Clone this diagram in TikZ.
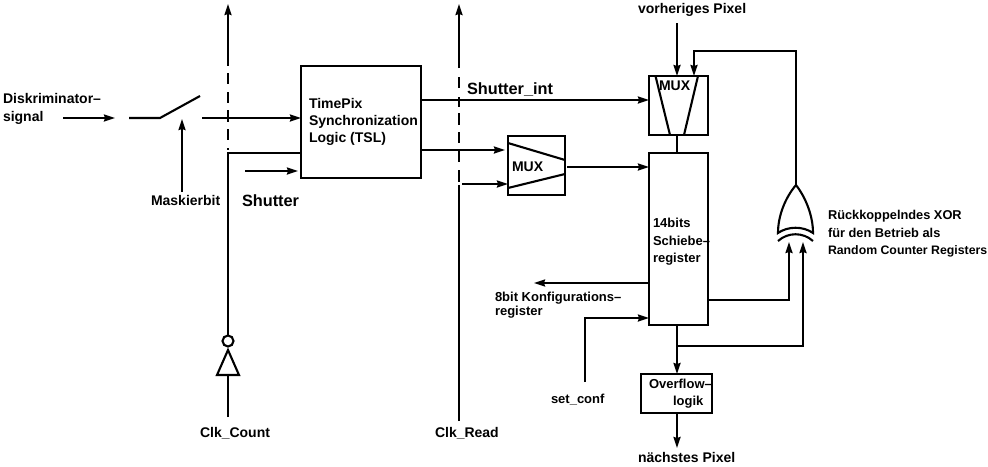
\documentclass[tikz,border=0pt]{standalone}
\usepackage{fontspec}
\setmainfont{Liberation Sans}
\usetikzlibrary{arrows.meta}
\tikzset{
  x=1pt,y=-1pt,
  wire/.style={line width=2.1pt,line cap=butt,line join=miter},
  sig/.style={wire,-{Stealth[length=11pt,width=7pt,inset=1pt]}},
  box/.style={draw,line width=2.1pt,inner sep=0pt,outer sep=0pt,rectangle},
  lab/.style={anchor=base west,inner sep=0pt,outer sep=0pt,font=\fontsize{14}{16}\bfseries},
  labM/.style={lab,font=\fontsize{13}{15}\bfseries},
  labS/.style={lab,font=\fontsize{12.8}{15}\bfseries},
  labT/.style={lab,font=\fontsize{12.3}{15}\bfseries},
  labL/.style={lab,font=\fontsize{16.3}{18}\bfseries},
}
\begin{document}
\begin{tikzpicture}
\useasboundingbox (0,0) rectangle (988,466);
% blocks
\node[box,minimum width=120pt,minimum height=112pt] (tsl) at (361,122) {};
\node[box,minimum width=57pt,minimum height=59pt] (muxb) at (536.5,165.5) {};
\node[box,minimum width=59pt,minimum height=59pt] (muxa) at (678.5,105.5) {};
\node[box,minimum width=59pt,minimum height=172pt] (reg) at (678.5,239) {};
\node[box,minimum width=71pt,minimum height=39pt] (ovf) at (676.5,393.5) {};
% mux interiors
\draw[wire] (508,143) -- (565,160);
\draw[wire] (508,188) -- (565,174);
\draw[wire] (655.5,76) -- (670,135);
\draw[wire] (698,76) -- (684,135);
% free ends
\coordinate (rtopA) at (228,4);
\coordinate (rA) at (228,65.5);
\coordinate (cA) at (228,153);
\coordinate (rtopB) at (459,4);
\coordinate (rB) at (459,68);
\coordinate (cC) at (459,185);
\coordinate (cD) at (459,421);
% inverter
\node[draw,circle,line width=2.1pt,minimum size=11pt,inner sep=0pt,outer sep=0pt] (inv) at (228,341) {};
\coordinate (ta) at (228,350);
\coordinate (tl) at (217,375);
\coordinate (tr) at (239,375);
\coordinate (tb) at (228,375);
\coordinate (ck) at (228,417);
\draw[wire,line join=miter] (ta) -- (tr) -- (tl) -- cycle;
\draw[wire] (ck) -- (tb);
\draw[wire] (inv.north) -- (cA) -- (cA -| tsl.west);
\draw[sig] (rA) -- (rtopA);
\foreach \a/\b in {73/84,92/103,110/122,129/140,148/150}{\draw[wire] (228,\a) -- (228,\b);}
\draw[sig] (rB) -- (rtopB);
\foreach \a/\b in {77/88,97/107,113/125,132/143,151/162,170/182}{\draw[wire] (459,\a) -- (459,\b);}
\draw[wire] (cD) -- (cC);
% switch
\coordinate (d1) at (63,118);
\coordinate (d2) at (115,118);
\coordinate (s1) at (129,118);
\coordinate (s2) at (160,118);
\coordinate (s3) at (200,96);
\coordinate (s4) at (202,118);
\coordinate (m1) at (182,192);
\coordinate (m2) at (182,119);
\draw[sig] (d1) -- (d2);
\draw[wire] (s1) -- (s2) -- (s3);
\draw[sig] (s4) -- (s4 -| tsl.west);
\draw[sig] (m1) -- (m2);
\coordinate (sh1) at (245,171);
\draw[sig] (sh1) -- ([xshift=-3pt]sh1 -| tsl.west);
% TSL outputs
\coordinate (h1) at (421,100);
\coordinate (h2) at (421,150);
\coordinate (h3) at (462,184);
\draw[sig] (h1) -- (h1 -| muxa.west);
\draw[sig] (h2) -- ([xshift=-3pt]h2 -| muxb.west);
\draw[sig] (h3) -- (h3 -| muxb.west);
\coordinate (o1) at (567,167);
\draw[sig] (o1) -- (o1 -| reg.west);
% right column
\coordinate (vp) at (677,23);
\draw[sig] (vp) -- (vp |- muxa.north);
\draw[wire] (muxa.south -| vp) -- (reg.north -| vp);
% XOR
\coordinate (xa) at (796,185);
\coordinate (xl) at (778,233);
\coordinate (xr) at (813,233);
\coordinate (fb1) at (796,51);
\coordinate (fb2) at (694,51);
\draw[wire] (xa) .. controls (785,198) and (778,216) .. (xl)
  .. controls (788,226) and (803,226) .. (xr)
  .. controls (813,216) and (806,198) .. (xa);
\draw[wire] (778,241) .. controls (788,232) and (803,232) .. (813,241);
\draw[sig] (xa) -- (fb1) -- (fb2) -- (fb2 |- muxa.north);
\coordinate (x1) at (789,242);
\coordinate (x2) at (803,242);
\coordinate (q1) at (789,300);
\coordinate (q2) at (803,346);
\coordinate (q3) at (677,346);
\draw[sig] (q1 -| reg.east) -- (q1) -- (x1);
\draw[sig] (q3) -- (q2) -- (x2);
\draw[sig] (vp |- reg.south) -- (vp |- ovf.north);
\coordinate (np) at (677,448);
\draw[sig] (vp |- ovf.south) -- (np);
\coordinate (k1) at (649,283);
\coordinate (k2) at (534,283);
\draw[sig] (k1) -- (k2);
\coordinate (c1) at (585,382);
\coordinate (c2) at (585,318);
\draw[sig] (c1) -- (c2) -- (c2 -| reg.west);
% labels
\node[lab] (l1) at (3,103.5) {Diskriminator–};
\node[lab] (l2) at (3,121) {signal};
\node[lab] (l3) at (151,205.5) {Maskierbit};
\node[labL] (l4) at (242,206) {Shutter};
\node[lab] (l5) at (309,108) {TimePix};
\node[lab] (l6) at (309,125) {Synchronization};
\node[lab] (l7) at (309,142) {Logic (TSL)};
\node[labL] (l8) at (467,94) {Shutter\_int};
\node[lab] (l9) at (512,171) {MUX};
\node[lab] (l10) at (659,90) {MUX};
\node[lab] (l11) at (638,13) {vorheriges Pixel};
\node[labM] (l12) at (653,227) {14bits};
\node[labM] (l13) at (653,245) {Schiebe–};
\node[labM] (l14) at (653,262) {register};
\node[labM] (l15) at (495,301) {8bit Konfigurations–};
\node[labM] (l16) at (495,315) {register};
\node[labM] (l17) at (551,403) {set\_conf};
\node[labM] (l18) at (649,388) {Overflow–};
\node[labM] (l19) at (673,405) {logik};
\node[lab] (l20) at (638,462) {nächstes Pixel};
\node[lab] (l21) at (200,437) {Clk\_Count};
\node[lab] (l22) at (435,437) {Clk\_Read};
\node[labS] (l23) at (828,219) {Rückkoppelndes XOR};
\node[labS] (l24) at (828,237) {für den Betrieb als};
\node[labT] (l25) at (828,254) {Random Counter Registers};
\end{tikzpicture}
\end{document}
